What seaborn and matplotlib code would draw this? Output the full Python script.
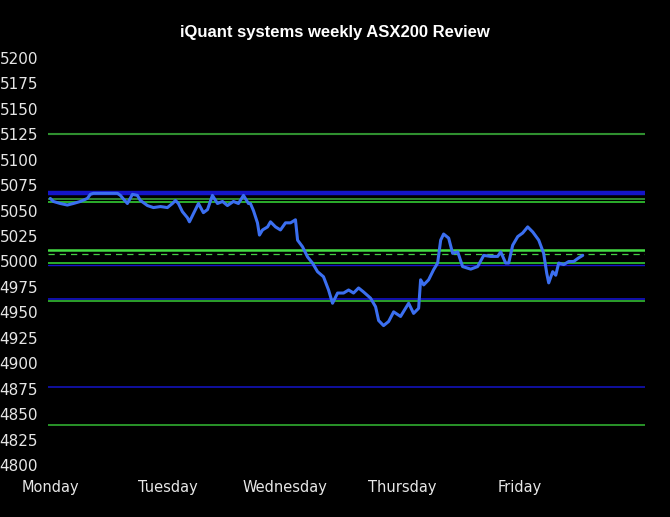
import matplotlib
matplotlib.use('Agg')
import matplotlib.pyplot as plt
import seaborn as sns
import pandas as pd

# trading time in days since Monday open, and ASX200 level
day_offset = [0.000, 0.026, 0.085, 0.145, 0.196, 0.256, 0.316, 0.341, 0.367, 0.469,
              0.572, 0.597, 0.657, 0.700, 0.742, 0.768, 0.828, 0.879, 0.939, 0.998,
              1.041, 1.067, 1.092, 1.126, 1.169, 1.186, 1.220, 1.263, 1.305, 1.340,
              1.382, 1.425, 1.468, 1.510, 1.561, 1.604, 1.647, 1.689, 1.706, 1.732,
              1.766, 1.783, 1.809, 1.852, 1.877, 1.920, 1.962, 2.005, 2.048, 2.090,
              2.108, 2.150, 2.193, 2.235, 2.278, 2.329, 2.372, 2.406, 2.449, 2.500,
              2.543, 2.585, 2.628, 2.671, 2.730, 2.773, 2.799, 2.841, 2.884, 2.927,
              2.986, 3.055, 3.097, 3.140, 3.157, 3.183, 3.225, 3.268, 3.302, 3.328,
              3.353, 3.396, 3.430, 3.473, 3.515, 3.584, 3.643, 3.695, 3.754, 3.814,
              3.840, 3.882, 3.908, 3.942, 3.985, 4.027, 4.070, 4.113, 4.164, 4.206,
              4.232, 4.249, 4.283, 4.309, 4.334, 4.377, 4.420, 4.462, 4.497, 4.539]
price = [5062, 5059, 5057, 5055.5, 5057, 5059, 5062, 5066, 5067, 5067,
         5067, 5065, 5057, 5066, 5065, 5060, 5055, 5053, 5054, 5053,
         5057, 5060, 5057, 5049, 5043, 5039, 5047, 5057, 5048, 5051,
         5065, 5057, 5059, 5055, 5059, 5057, 5065, 5057, 5057, 5050,
         5038, 5026, 5031, 5034, 5039, 5034, 5031, 5038, 5038, 5041,
         5021, 5014.5, 5004.5, 4998.5, 4990, 4985, 4972, 4959, 4969, 4969,
         4972, 4969, 4974, 4970, 4964, 4955.5, 4942, 4937, 4941, 4950.5,
         4946, 4959, 4949, 4954, 4982, 4977, 4982, 4992, 4998.5, 5021,
         5027, 5023, 5008, 5009.5, 4995, 4992.5, 4995, 5006, 5005, 5005,
         5009.5, 4998.5, 4998.5, 5016, 5024.5, 5028, 5034, 5029, 5021, 5008,
         4988.5, 4979, 4990, 4986.5, 4998.5, 4997, 5000, 5000, 5003, 5006]

days = ['Monday', 'Tuesday', 'Wednesday', 'Thursday', 'Friday']
y_ticks = [4800, 4825, 4850, 4875, 4900, 4925, 4950, 4975, 5000, 5025,
           5050, 5075, 5100, 5125, 5150, 5175, 5200]

# support / resistance levels
green_levels = [5125, 5061, 5058.3, 5011, 4998.3, 4961, 4839]
green_colors = ['#2f8f2f', '#3a9a3a', '#33cc33', '#44dd44', '#33cc33', '#33bb33', '#33bb33']
green_widths = [1.5, 1.2, 1.2, 1.8, 1.2, 1.2, 1.1]
blue_levels = [5067, 4996.8, 4963.4, 4877]
blue_widths = [3.2, 1.0, 1.2, 1.1]
dashed_level = 5007

df = pd.DataFrame({'day': day_offset, 'price': price})

sns.set_theme(style='dark', rc={'axes.facecolor': 'black', 'figure.facecolor': 'black'})
plt.rcParams['font.family'] = ['DejaVu Sans']

fig = plt.figure(figsize=(6.7, 5.17), dpi=100)
ax = fig.add_axes([0.0716, 0.1006, 0.8911, 0.7872])

for lvl, w in zip(blue_levels, blue_widths):
    ax.axhline(lvl, color='#1414c8', linewidth=w, zorder=1)
for lvl, c, w in zip(green_levels, green_colors, green_widths):
    ax.axhline(lvl, color=c, linewidth=w, zorder=2)
ax.axhline(dashed_level, color='#44cc44', linewidth=0.9, linestyle=(0, (5, 4)), zorder=2)

sns.lineplot(data=df, x='day', y='price', ax=ax, color='#3b6ff0', linewidth=2.2, zorder=3)

ax.set_xlim(-0.02, 5.07)
ax.set_ylim(4800, 5200)
ax.set_yticks(y_ticks)
ax.set_yticklabels([str(v) for v in y_ticks])
ax.set_xticks(range(len(days)))
ax.set_xticklabels(days)
ax.tick_params(axis='y', colors='#e6e6e6', length=0, pad=7)
ax.tick_params(axis='x', colors='#e6e6e6', labelsize=10.5, length=0, pad=11)
for lab in ax.get_yticklabels():
    lab.set_family(['Liberation Sans Narrow', 'DejaVu Sans Condensed', 'DejaVu Sans'])
    lab.set_fontsize(11)
ax.set_xlabel('')
ax.set_ylabel('')
ax.grid(False)
for s in ax.spines.values():
    s.set_visible(False)

fig.suptitle('iQuant systems weekly ASX200 Review', x=0.5, y=0.952,
             color='white', fontsize=12, fontweight='bold', family=['Liberation Sans', 'DejaVu Sans'])

plt.savefig('out.png', dpi=100, facecolor='black')
plt.close()
